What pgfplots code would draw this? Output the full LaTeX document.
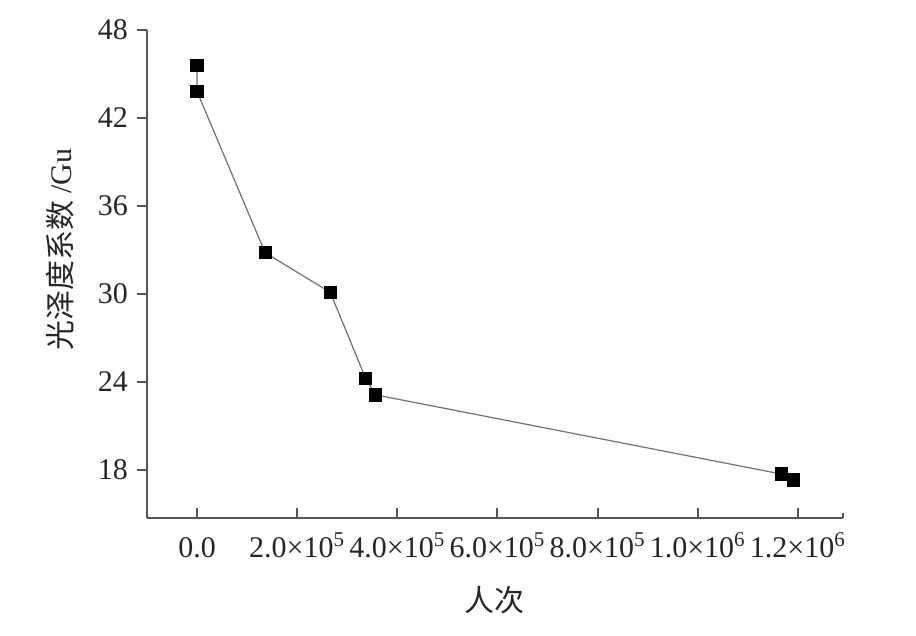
\documentclass[border=0pt]{standalone}
\usepackage{fontspec}
\setmainfont{Liberation Serif}
\newfontfamily\cjk{Noto Sans CJK SC}
\usepackage{pgfplots}
\pgfplotsset{compat=1.18}

\definecolor{axisgray}{HTML}{555555}
\definecolor{linegray}{HTML}{707070}

\begin{document}
\begin{tikzpicture}
\begin{axis}[
    scale only axis,
    width=348pt, height=244pt,
    xmin=-1e5, xmax=1.29e6,
    ymin=14.7, ymax=48,
    axis x line*=bottom, axis y line*=left,
    axis line style={axisgray, line width=1pt, -},
    tick pos=left,
    tick align=inside,
    major tick length=5pt,
    tick style={axisgray, line width=1pt},
    y tick style={xshift=-5pt},
    xtick={0,2e5,4e5,6e5,8e5,1e6,1.2e6},
    xticklabels={0.0, 2.0×10\textsuperscript{5}, 4.0×10\textsuperscript{5}, 6.0×10\textsuperscript{5}, 8.0×10\textsuperscript{5}, 1.0×10\textsuperscript{6}, 1.2×10\textsuperscript{6}},
    extra x ticks={1.29e6},
    extra x tick labels={},
    extra x tick style={major tick length=2.5pt},
    ytick={18,24,30,36,42,48},
    scaled x ticks=false,
    /pgf/number format/assume math mode=true,
    ticklabel style={font=\fontsize{15}{18}\selectfont, text=black!85},
    xticklabel style={text height=12pt, text depth=0pt, yshift=-4pt},
    yticklabel style={xshift=-6pt},
    xlabel={{\cjk 人次}},
    ylabel={{\cjk 光泽度系数} /Gu},
    label style={font=\fontsize{15}{18}\selectfont, text=black!85},
    xlabel style={at={(axis description cs:0.5,-0.168)}, anchor=center},
    ylabel style={at={(axis description cs:-0.125,0.55)}, anchor=center},
    clip=false,
]
\addplot[color=linegray, line width=0.6pt, mark=square*, mark size=3pt,
    mark options={fill=black, draw=black, solid}]
    coordinates {
        (0, 45.6)
        (0, 43.8)
        (1.36e5, 32.8)
        (2.66e5, 30.1)
        (3.37e5, 24.2)
        (3.57e5, 23.1)
        (1.167e6, 17.7)
        (1.191e6, 17.3)
    };
\coordinate (bl) at (rel axis cs:-0.2112,-0.2398);
\coordinate (tr) at (rel axis cs:1.1049,1.0615);
\end{axis}
\path[use as bounding box] (bl) rectangle (tr);
\end{tikzpicture}
\end{document}
